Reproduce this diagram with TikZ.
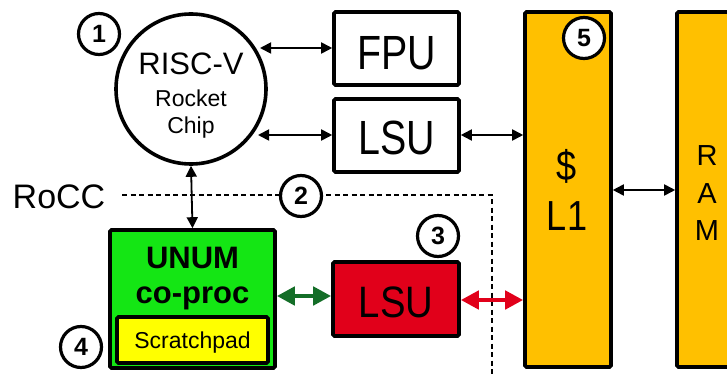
\documentclass[tikz,border=0pt]{standalone}
\usepackage{fontspec}
\setmainfont{Liberation Sans}
\usetikzlibrary{arrows.meta}
\definecolor{gold}{RGB}{255,192,0}
\definecolor{lime}{RGB}{20,230,20}
\definecolor{redbox}{RGB}{225,0,26}
\definecolor{darkgr}{RGB}{20,110,40}
\definecolor{yel}{RGB}{255,255,0}
\newcommand{\fs}[1]{\fontsize{#1}{#1}\selectfont}
\begin{document}
\begin{tikzpicture}[x=1pt,y=-1pt,
  box/.style={draw=black, line width=3.6pt, rounded corners=1.5pt, inner sep=0pt},
  badge/.style={circle, draw=black, line width=3.2pt, fill=white, minimum size=41pt, inner sep=0pt, font=\fs{25}\bfseries},
  txt/.style={inner sep=0pt, anchor=base},
  link/.style={line width=1.8pt, {Triangle[length=11pt,width=11pt]}-{Triangle[length=11pt,width=11pt]}},
  fat/.style={line width=4.5pt, {Triangle[length=18pt,width=18pt]}-{Triangle[length=18pt,width=18pt]}},
  rocc/.style={line width=1.1pt, dash pattern=on 5pt off 3.5pt}]
\useasboundingbox (0,0) rectangle (727,374);
\clip (0,0) rectangle (727,374);

% dashed RoCC boundary
\coordinate (d0) at (122,195);
\coordinate (d1) at (492,195);
\coordinate (d2) at (492,374);
\draw[rocc] (d0) -- (d1) -- (d2);

% core
\node[circle, draw=black, line width=3.6pt, minimum size=150pt, inner sep=0pt] (risc) at (191,89) {};
\node[txt, font=\fs{31}] (t1) at (191,75) {RISC-V};
\node[txt, font=\fs{23}] (t2) at (191,107) {Rocket};
\node[txt, font=\fs{23}] (t3) at (191,134) {Chip};

\node[box, fill=white, minimum width=125pt, minimum height=73pt] (fpu) at (396.5,48.5) {};
\node[txt] (fput) at (396.5,70) {\scalebox{0.82}[1]{\fs{48}FPU}};
\node[box, fill=white, minimum width=125pt, minimum height=73pt] (lsu1) at (396.5,135.5) {};
\node[txt] (lsu1t) at (396.5,155) {\scalebox{0.82}[1]{\fs{48}LSU}};

\node[box, fill=gold, minimum width=86pt, minimum height=355pt] (l1) at (568,189.5) {};
\node[txt] (dol) at (567,180) {\scalebox{0.86}[1]{\fs{42}\$}};
\node[txt] (l1t) at (567,230) {\scalebox{0.86}[1]{\fs{42}L1}};

\node[box, fill=gold, minimum width=86pt, minimum height=355pt] (ram) at (720,189.5) {};
\node[txt, font=\fs{29}] (r1) at (707,165) {R};
\node[txt, font=\fs{29}] (r2) at (707,203) {A};
\node[txt, font=\fs{29}] (r3) at (707,240) {M};

\node[txt, font=\fs{34}] (roccl) at (59,208) {RoCC};

\node[box, fill=lime, minimum width=165pt, minimum height=138pt] (unum) at (192.5,299) {};
\node[txt, font=\fs{31}\bfseries] (u1) at (192.5,268) {UNUM};
\node[txt, font=\fs{31}\bfseries] (u2) at (192.5,303) {co-proc};
\node[box, fill=yel, minimum width=151pt, minimum height=46pt] (scr) at (192.5,340) {};
\node[txt, font=\fs{23}] (scrt) at (192.5,348) {Scratchpad};

\node[box, fill=redbox, minimum width=126pt, minimum height=74pt] (lsu2) at (396,299) {};
\node[txt] (lsu2t) at (396,317) {\scalebox{0.87}[1]{\fs{44}LSU}};

% connectors
\coordinate (c1) at (260,48);
\coordinate (c2) at (258,135);
\draw[link] (c1) -- (c1 -| fpu.west);
\draw[link] (c2) -- (c2 -| lsu1.west);
\draw[link] (lsu1.east |- c2) -- (c2 -| l1.west);
\coordinate (c3) at (613,190);
\draw[link] (l1.east |- c3) -- (ram.west |- c3);
\draw[link] (risc.south) -- (unum.north);
\coordinate (c4) at (300,296);
\draw[fat, darkgr] (unum.east |- c4) -- (lsu2.west |- c4);
\coordinate (c5) at (490,300);
\draw[fat, redbox] (lsu2.east |- c5) -- (l1.west |- c5);

% badges
\node[badge] (b1) at (99,34) {1};
\node[badge] (b2) at (301,196) {2};
\node[badge] (b3) at (438,236) {3};
\node[badge] (b4) at (81,347) {4};
\node[badge] (b5) at (584,38) {5};
\end{tikzpicture}
\end{document}
